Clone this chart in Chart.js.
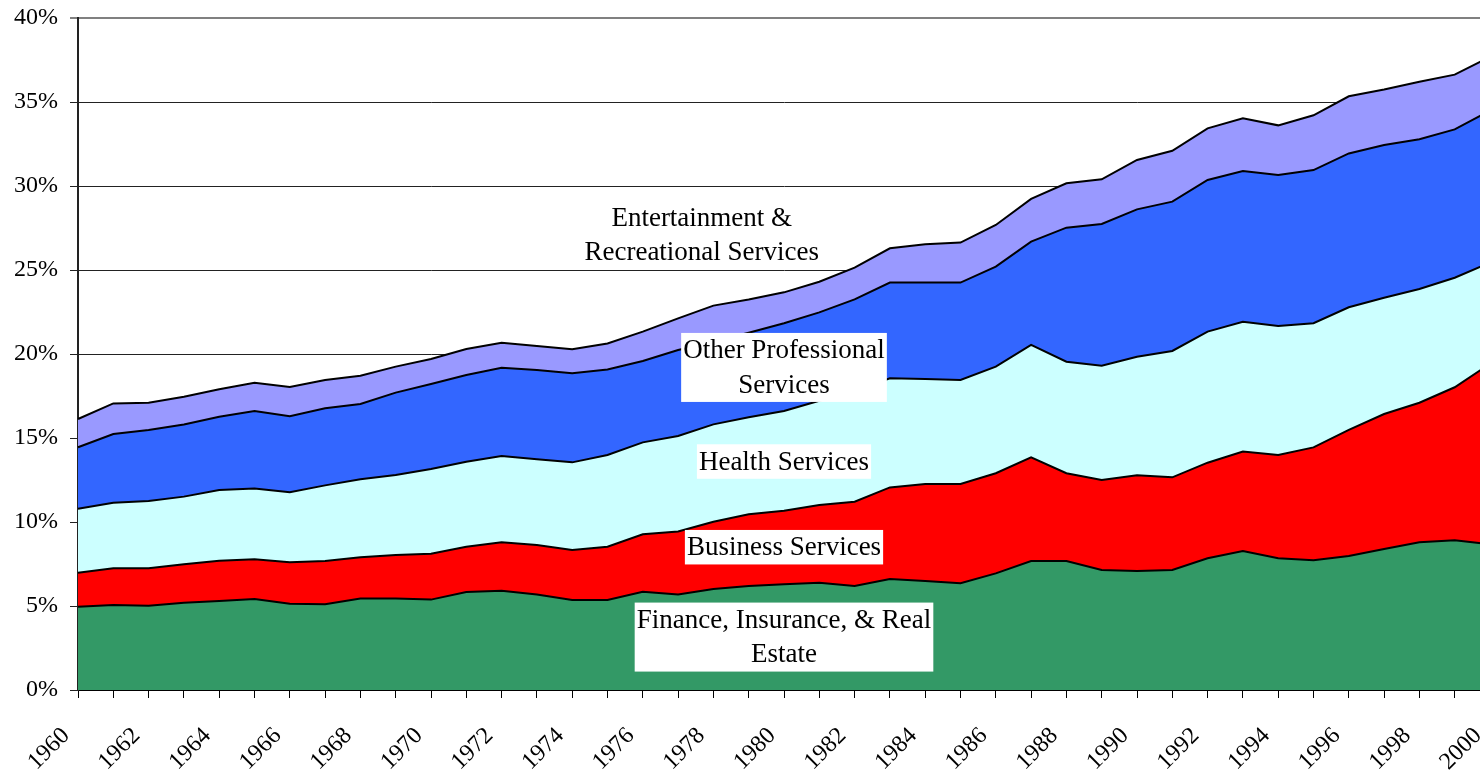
<!DOCTYPE html>
<html>
<head>
<meta charset="utf-8">
<script src="https://cdn.jsdelivr.net/npm/chart.js@4.4.1/dist/chart.umd.min.js"></script>
<style>
  html, body { margin: 0; padding: 0; background: #fff; overflow: hidden; }
  #wrap { width: 1480px; height: 778px; overflow: hidden; }
</style>
</head>
<body>
<div id="wrap"><canvas id="chart" width="1492" height="778"></canvas></div>
<script>
// share of employment, percent
const years = [1960,1961,1962,1963,1964,1965,1966,1967,1968,1969,1970,1971,1972,1973,1974,1975,1976,1977,1978,1979,
               1980,1981,1982,1983,1984,1985,1986,1987,1988,1989,1990,1991,1992,1993,1994,1995,1996,1997,1998,1999,2000];

const finance = [4.96,5.06,5.02,5.20,5.30,5.42,5.14,5.10,5.44,5.44,5.38,5.83,5.91,5.69,5.36,5.36,5.85,5.69,6.01,6.19,
                 6.29,6.39,6.19,6.61,6.49,6.35,6.94,7.68,7.68,7.14,7.08,7.14,7.84,8.27,7.84,7.72,7.98,8.39,8.79,8.91,8.67];
const business = [2.02,2.18,2.22,2.28,2.40,2.36,2.46,2.58,2.46,2.60,2.73,2.70,2.88,2.94,2.97,3.17,3.42,3.74,4.01,4.27,
                  4.38,4.62,5.02,5.45,5.77,5.91,5.96,6.17,5.22,5.36,5.70,5.52,5.69,5.92,6.15,6.72,7.50,8.04,8.31,9.11,10.75];
const health = [3.81,3.91,4.01,4.03,4.20,4.22,4.17,4.50,4.64,4.76,5.04,5.06,5.14,5.10,5.22,5.46,5.47,5.69,5.79,5.77,
                5.94,6.21,6.59,6.49,6.25,6.19,6.35,6.69,6.64,6.80,7.06,7.52,7.80,7.73,7.68,7.39,7.30,6.92,6.77,6.52,6.02];
const otherProf = [3.66,4.09,4.23,4.29,4.37,4.60,4.53,4.59,4.48,4.90,5.06,5.16,5.25,5.32,5.30,5.09,4.84,5.12,4.92,5.04,
                   5.22,5.26,5.45,5.70,5.74,5.80,5.95,6.15,7.98,8.44,8.77,8.89,9.03,8.97,8.98,9.12,9.16,9.09,8.91,8.83,9.05];
const entertainment = [1.68,1.82,1.62,1.66,1.63,1.69,1.73,1.68,1.69,1.55,1.49,1.55,1.49,1.43,1.43,1.55,1.75,1.88,2.15,1.98,
                       1.84,1.82,1.89,2.04,2.28,2.38,2.48,2.54,2.64,2.66,2.94,3.03,3.07,3.14,2.96,3.26,3.40,3.31,3.43,3.26,3.19];

// text labels placed on the areas (year, percent)
const areaLabels = [
    { lines: ['Finance, Insurance, & Real', 'Estate'], year: 1980, pct: 3.15 },
    { lines: ['Business Services'], year: 1980, pct: 8.5 },
    { lines: ['Health Services'], year: 1980, pct: 13.6 },
    { lines: ['Other Professional', 'Services'], year: 1980, pct: 19.2 },
    { lines: ['Entertainment &', 'Recreational Services'], year: 1977.67, pct: 27.1 }
];

const serif = '"Liberation Serif", "Times New Roman", serif';

const labelPlugin = {
    id: 'areaLabels',
    afterDatasetsDraw(chart) {
        const ctx = chart.ctx;
        const xs = chart.scales.x, ys = chart.scales.y;
        ctx.save();
        ctx.font = '27px ' + serif;
        ctx.textAlign = 'center';
        ctx.textBaseline = 'middle';
        areaLabels.forEach(l => {
            const cx = xs.getPixelForValue(l.year - years[0]);
            const cy = ys.getPixelForValue(l.pct);
            const w = Math.max(...l.lines.map(t => ctx.measureText(t).width)) + 4;
            const lh = 34.5;
            const h = l.lines.length * lh;
            ctx.fillStyle = '#fff';
            ctx.fillRect(cx - w / 2, cy - h / 2, w, h);
            ctx.fillStyle = '#000';
            l.lines.forEach((t, i) => ctx.fillText(t, cx, cy - h / 2 + lh * (i + 0.5) + 1));
        });
        ctx.restore();
    }
};

function area(label, data, color, fill) {
    return {
        label: label,
        data: data,
        backgroundColor: color,
        borderColor: '#000',
        borderWidth: 2,
        pointRadius: 0,
        tension: 0,
        fill: fill
    };
}

const ctx = document.getElementById('chart').getContext('2d');
new Chart(ctx, {
    type: 'line',
    data: {
        labels: years,
        datasets: [
            area('Finance, Insurance, & Real Estate', finance, '#339966', 'origin'),
            area('Business Services', business, '#ff0000', '-1'),
            area('Health Services', health, '#ccffff', '-1'),
            area('Other Professional Services', otherProf, '#3366ff', '-1'),
            area('Entertainment & Recreational Services', entertainment, '#9999ff', '-1')
        ]
    },
    options: {
        responsive: false,
        animation: false,
        layout: { padding: { top: 18, right: 2, left: 0, bottom: 0 } },
        plugins: { legend: { display: false }, tooltip: { enabled: false } },
        scales: {
            x: {
                grid: { drawOnChartArea: false, drawTicks: true, tickLength: 8, color: '#000', lineWidth: 1 },
                border: { display: true, color: '#000', width: 2 },
                ticks: {
                    autoSkip: false,
                    maxRotation: 45,
                    minRotation: 45,
                    padding: 24,
                    labelOffset: -12,
                    color: '#000',
                    font: { family: serif, size: 24 },
                    callback: (v, i) => i % 2 === 0 ? String(years[i]) : ''
                },
                afterFit: s => { s.height = 88; s.paddingLeft = 0; s.paddingRight = 0; }
            },
            y: {
                stacked: true,
                min: 0,
                max: 40,
                grid: {
                    tickLength: 8,
                    color: c => c.tick && c.tick.value === 40 ? '#808080' : '#222',
                    lineWidth: c => c.tick && c.tick.value === 40 ? 2 : 1
                },
                border: { display: true, color: '#222', width: 2 },
                ticks: {
                    stepSize: 5,
                    padding: 12,
                    color: '#000',
                    font: { family: serif, size: 24 },
                    callback: v => v + '%'
                },
                afterFit: s => { s.width = 78; s.paddingTop = 0; s.paddingBottom = 0; }
            }
        }
    },
    plugins: [labelPlugin]
});
</script>
</body>
</html>
